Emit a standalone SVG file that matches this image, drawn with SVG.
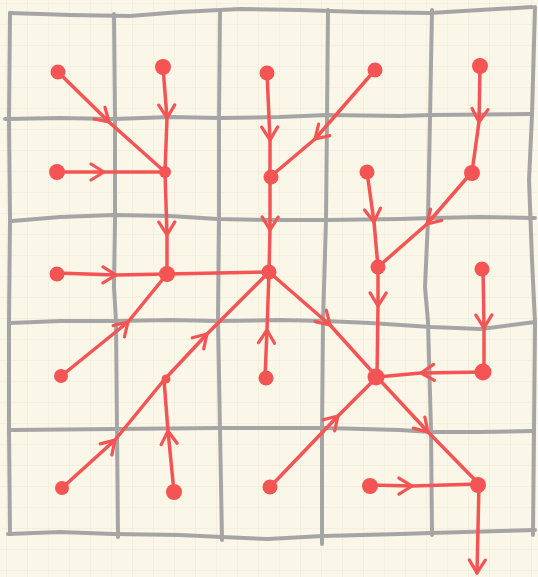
<svg xmlns="http://www.w3.org/2000/svg" width="538" height="577" viewBox="0 0 538 577">
<defs>
<pattern id="paper" width="21" height="21" patternUnits="userSpaceOnUse" x="6" y="3">
<path d="M0,0 H21 M0,0 V21" fill="none" stroke="#eee7d3" stroke-width="1"/>
</pattern>
<marker id="chev" viewBox="-15 -10 17 20" refX="0" refY="0" markerWidth="17" markerHeight="20" markerUnits="userSpaceOnUse" orient="auto">
<path d="M-13,-8 L0,0 L-13,8" fill="none" stroke="#f45454" stroke-width="3.2" stroke-linecap="round" stroke-linejoin="round"/>
</marker>
</defs>
<style>
.grid{fill:none;stroke:#a5a5a5;stroke-width:4;stroke-linecap:round;stroke-linejoin:round}
.edge{fill:none;stroke:#f45454;stroke-width:3.5;stroke-linecap:round;stroke-linejoin:round;marker-mid:url(#chev)}
.plain{fill:none;stroke:#f45454;stroke-width:3.5;stroke-linecap:round}
.exit{fill:none;stroke:#f45454;stroke-width:3.5;stroke-linecap:round;marker-end:url(#chev)}
.node circle{fill:#f45454}
</style>
<rect width="538" height="577" fill="#faf6e8"/>
<rect width="538" height="577" fill="url(#paper)"/>
<g id="grid">
<polyline class="grid" points="10,13 70,15 130,16 180,12 240,9 300,10 360,12 430,13 480,10 532,7"/>
<polyline class="grid" points="5,119 60,118 114,119 170,117 220,118 280,117 327,115 400,116 431,115 530,114"/>
<polyline class="grid" points="12,221 60,217 114,215 170,216 218,219 270,220 327,220 400,219 431,218 480,217 535,218"/>
<polyline class="grid" points="10,323 60,321 114,321 170,320 218,321 280,320 325,321 370,323 431,327 481,329 535,322"/>
<polyline class="grid" points="12,430 114,429 218,428 270,428 325,428 400,430 431,432 480,432 533,431"/>
<polyline class="grid" points="8,534 60,532 114,534 180,535 222,537 268,539 323,536 400,534 431,533 500,531 535,530"/>
<polyline class="grid" points="10,13 9,120 10,220 9,322 9,430 10,534"/>
<polyline class="grid" points="114,14 115,118 115,220 114,287 116,322 117,430 118,537"/>
<polyline class="grid" points="220,12 219,118 219,220 218,320 220,430 222,540"/>
<polyline class="grid" points="328,10 327,118 326,220 323,322 322,430 322,544"/>
<polyline class="grid" points="432,10 430,118 428,220 425,287 428,322 431,430 432,535"/>
<polyline class="grid" points="535,7 532,115 529,180 532,260 535,322 534,430 533,535"/>
</g>
<g id="connectors">
<path class="edge" d="M58,72 L109,122 L165,172"/>
<path class="edge" d="M163,67 L167,118 L165,172"/>
<path class="edge" d="M57,172 L104,172 L165,172"/>
<path class="edge" d="M165,172 L167,235 L167,274"/>
<path class="edge" d="M57,273 L116,275 L167,274"/>
<path class="plain" d="M167,274 L269,272"/>
<path class="edge" d="M60,377 L128,322 L167,274"/>
<path class="edge" d="M267,73 L270,140 L270,177"/>
<path class="edge" d="M375,70 L315,139 L270,177"/>
<path class="edge" d="M270,177 L270,230 L269,272"/>
<path class="edge" d="M265,378 L267,330 L269,272"/>
<path class="edge" d="M62,488 L115,440 L164,380"/>
<path class="edge" d="M164,380 L207,334 L269,272"/>
<path class="edge" d="M174,492 L168,431 L164,380"/>
<path class="edge" d="M367,172 L374,222 L378,267"/>
<path class="edge" d="M480,66 L479,122 L472,172"/>
<path class="edge" d="M472,172 L427,224 L378,267"/>
<path class="edge" d="M378,267 L378,306 L377,377"/>
<path class="edge" d="M483,268 L484,328 L484,372"/>
<path class="edge" d="M484,372 L421,373 L377,377"/>
<path class="edge" d="M270,487 L338,416 L377,377"/>
<path class="edge" d="M370,485 L412,486 L479,484"/>
<path class="edge" d="M269,272 L330,325 L377,377"/>
<path class="edge" d="M377,377 L428,432 L479,484"/>
<path class="exit" d="M479,484 L477,573"/>
</g>
<g id="n1" class="node"><circle cx="58" cy="72" r="7.5"/></g>
<g id="n2" class="node"><circle cx="163" cy="67" r="8"/></g>
<g id="n3" class="node"><circle cx="267" cy="73" r="7.5"/></g>
<g id="n4" class="node"><circle cx="375" cy="70" r="7.5"/></g>
<g id="n5" class="node"><circle cx="480" cy="66" r="8"/></g>
<g id="n6" class="node"><circle cx="57" cy="172" r="8"/></g>
<g id="n7" class="node"><circle cx="165" cy="172" r="6"/></g>
<g id="n8" class="node"><circle cx="271" cy="177" r="7.5"/></g>
<g id="n9" class="node"><circle cx="367" cy="172" r="7.5"/></g>
<g id="n10" class="node"><circle cx="472" cy="173" r="8"/></g>
<g id="n11" class="node"><circle cx="57" cy="274" r="7.5"/></g>
<g id="n12" class="node"><circle cx="167" cy="274" r="8"/></g>
<g id="n13" class="node"><circle cx="269" cy="272" r="7.5"/></g>
<g id="n14" class="node"><circle cx="378" cy="267" r="7.5"/></g>
<g id="n15" class="node"><circle cx="482" cy="269" r="7.5"/></g>
<g id="n16" class="node"><circle cx="61" cy="376" r="7"/></g>
<g id="n17" class="node"><circle cx="166" cy="379" r="4.5"/></g>
<g id="n18" class="node"><circle cx="266" cy="378" r="7.5"/></g>
<g id="n19" class="node"><circle cx="376" cy="377" r="8.5"/></g>
<g id="n20" class="node"><circle cx="483" cy="372" r="8.5"/></g>
<g id="n21" class="node"><circle cx="62" cy="488" r="7"/></g>
<g id="n22" class="node"><circle cx="174" cy="492" r="8"/></g>
<g id="n23" class="node"><circle cx="270" cy="487" r="7.5"/></g>
<g id="n24" class="node"><circle cx="370" cy="486" r="8"/></g>
<g id="n25" class="node"><circle cx="478" cy="485" r="8"/></g>
</svg>
